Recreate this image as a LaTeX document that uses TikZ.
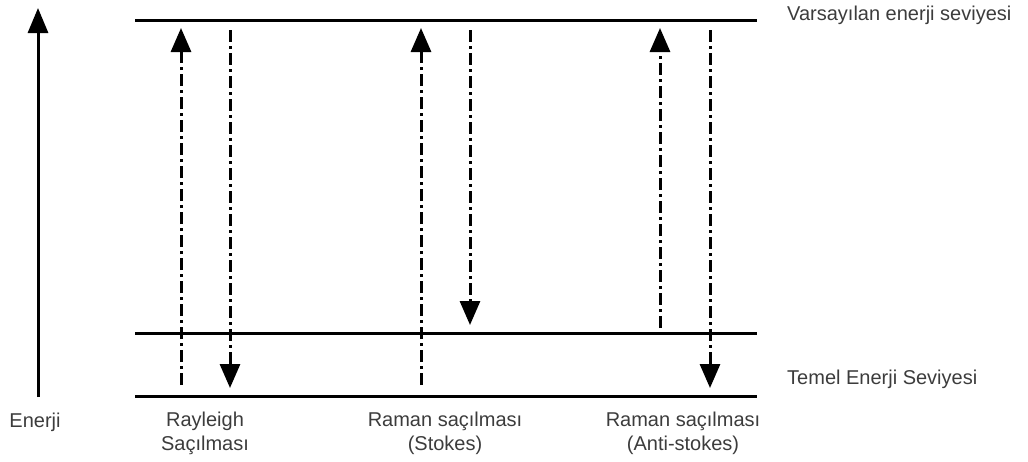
\documentclass[tikz,border=0pt]{standalone}
\usepackage{fontspec}
\setmainfont{Liberation Sans}
\usetikzlibrary{arrows.meta}
\definecolor{txt}{HTML}{3C3C3C}
\tikzset{
  level/.style={line width=3pt},
  axis/.style={line width=3pt,-{Triangle[width=20pt,length=25pt]}},
  trans/.style={line width=3pt,dash pattern=on 12pt off 4pt on 3pt off 4pt,-{Triangle[width=20pt,length=24pt]}},
  lbl/.style={text=txt,font=\fontsize{20}{23.5}\selectfont,inner sep=0pt},
  lblc/.style={lbl,align=center,anchor=north},
}
\begin{document}
\begin{tikzpicture}[x=1pt,y=-1pt]
\useasboundingbox (0,0) rectangle (1028,461);
% levels
\coordinate (t1) at (135,20); \coordinate (t2) at (757,20);
\coordinate (m1) at (135,333); \coordinate (m2) at (757,333);
\coordinate (b1) at (135,396); \coordinate (b2) at (757,396);
\draw[level] (t1) -- (t2);
\draw[level] (m1) -- (m2);
\draw[level] (b1) -- (b2);
% axis
\coordinate (a0) at (38,397); \coordinate (a1) at (38,8);
\draw[axis] (a0) -- (a1);
% transitions
\coordinate (r1s) at (181,385); \coordinate (r1e) at (181,28);
\coordinate (r2s) at (230,30);  \coordinate (r2e) at (230,388);
\coordinate (s1s) at (421,385); \coordinate (s1e) at (421,28);
\coordinate (s2s) at (470,30);  \coordinate (s2e) at (470,325);
\coordinate (a1s) at (660,328); \coordinate (a1e) at (660,28);
\coordinate (a2s) at (710,30);  \coordinate (a2e) at (710,388);
\draw[trans] (r1s) -- (r1e);
\draw[trans] (r2s) -- (r2e);
\draw[trans] (s1s) -- (s1e);
\draw[trans] (s2s) -- (s2e);
\draw[trans] (a1s) -- (a1e);
\draw[trans] (a2s) -- (a2e);
% labels
\node[lbl,anchor=base west] (vl) at (787,20) {Varsayılan enerji seviyesi};
\node[lbl,anchor=base west] (tl) at (787,384) {Temel Enerji Seviyesi};
\node[lbl,anchor=base] (en) at (35,427) {Enerji};
\node[lblc] (ray) at (205,412) {Rayleigh\\Saçılması};
\node[lblc] (sto) at (445,412) {Raman saçılması\\(Stokes)};
\node[lblc] (ast) at (683,412) {Raman saçılması\\(Anti-stokes)};
\end{tikzpicture}
\end{document}
